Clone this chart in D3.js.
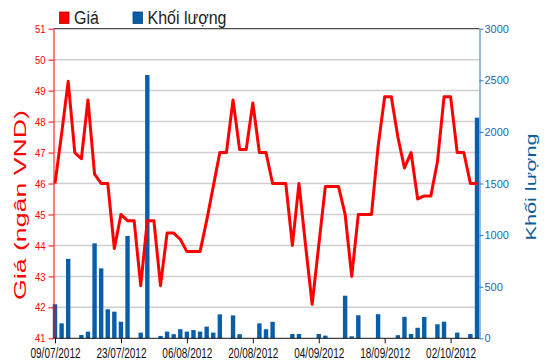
<!DOCTYPE html>
<html>
<head>
<meta charset="utf-8">
<script src="https://cdn.jsdelivr.net/npm/d3@7"></script>
<style>
  html, body { margin: 0; padding: 0; background: #fff; }
  svg { display: block; font-family: "Liberation Sans", Arial, sans-serif; }
</style>
</head>
<body>
<svg id="chart" width="550" height="364"></svg>
<script>
const dates = [
  "09/07/2012","10/07/2012","11/07/2012","12/07/2012","13/07/2012",
  "16/07/2012","17/07/2012","18/07/2012","19/07/2012","20/07/2012",
  "23/07/2012","24/07/2012","25/07/2012","26/07/2012","27/07/2012",
  "30/07/2012","31/07/2012","01/08/2012","02/08/2012","03/08/2012",
  "06/08/2012","07/08/2012","08/08/2012","09/08/2012","10/08/2012",
  "13/08/2012","14/08/2012","15/08/2012","16/08/2012","17/08/2012",
  "20/08/2012","21/08/2012","22/08/2012","23/08/2012","24/08/2012",
  "27/08/2012","28/08/2012","29/08/2012","30/08/2012","31/08/2012",
  "04/09/2012","05/09/2012","06/09/2012","07/09/2012","10/09/2012",
  "11/09/2012","12/09/2012","13/09/2012","14/09/2012","17/09/2012",
  "18/09/2012","19/09/2012","20/09/2012","21/09/2012","24/09/2012",
  "25/09/2012","26/09/2012","27/09/2012","28/09/2012","01/10/2012",
  "02/10/2012","03/10/2012","04/10/2012","05/10/2012","08/10/2012"
];
const price = [
  46.0, 47.6, 49.3, 47.0, 46.8, 48.7, 46.3, 46.0, 46.0, 43.9,
  45.0, 44.8, 44.8, 42.7, 44.8, 44.8, 42.7, 44.4, 44.4, 44.2,
  43.8, 43.8, 43.8, 44.8, 45.9, 47.0, 47.0, 48.7, 47.1, 47.1,
  48.6, 47.0, 47.0, 46.0, 46.0, 46.0, 44.0, 46.0, 44.0, 42.1,
  44.0, 45.9, 45.9, 45.9, 45.0, 43.0, 45.0, 45.0, 45.0, 47.2,
  48.8, 48.8, 47.5, 46.5, 47.0, 45.5, 45.6, 45.6, 46.7, 48.8,
  48.8, 47.0, 47.0, 46.0, 46.0
];
const volume = [
  330, 145, 770, 0, 32, 65, 920, 678, 281, 258,
  161, 991, 0, 55, 2551, 0, 23, 65, 40, 88,
  65, 80, 65, 113, 55, 232, 0, 222, 40, 0,
  0, 145, 88, 160, 0, 0, 42, 42, 0, 0,
  42, 26, 0, 0, 413, 19, 223, 0, 0, 234,
  0, 0, 30, 208, 42, 102, 207, 0, 136, 161,
  0, 55, 0, 42, 2138
];
const priceTicks = [41, 42, 43, 44, 45, 46, 47, 48, 49, 50, 51];
const volumeTicks = [0, 500, 1000, 1500, 2000, 2500, 3000];
const dateTicks = ["09/07/2012","23/07/2012","06/08/2012","20/08/2012","04/09/2012","18/09/2012","02/10/2012"];
const legendLabels = ["Giá", "Khối lượng"];
const leftTitle = "Giá (ngân VND)";
const rightTitle = "Khối lượng";

const svg = d3.select("#chart");
const pLeft = 53.5, pRight = 479.5, pTop = 28.7, pBottom = 338.3;

const x = d3.scalePoint().domain(dates).range([55, 477]);
const yP = d3.scaleLinear().domain([41, 51]).range([pBottom, pTop]);
const yV = d3.scaleLinear().domain([0, 3000]).range([pBottom, pTop]);

const RED = "#ff0000", BAR = "#0a5ea8", BLUE_AX = "#2a78b6", BLUE_TXT = "#1b6aa9";

// gridlines
svg.append("g").selectAll("line")
  .data(priceTicks.filter(d => d > 41 && d < 51))
  .join("line")
  .attr("x1", pLeft).attr("x2", pRight)
  .attr("y1", d => yP(d)).attr("y2", d => yP(d))
  .attr("stroke", "#cfcfcf").attr("stroke-width", 1.5);

// bars
const bw = 4.4;
svg.append("g").selectAll("rect")
  .data(volume.map((v, i) => ({d: dates[i], v})))
  .join("rect")
  .attr("x", d => x(d.d) - bw / 2)
  .attr("width", bw)
  .attr("y", d => yV(d.v))
  .attr("height", d => pBottom - yV(d.v))
  .attr("fill", BAR);

// price line
svg.append("path")
  .datum(price.map((p, i) => ({d: dates[i], p})))
  .attr("fill", "none")
  .attr("stroke", RED)
  .attr("stroke-width", 3)
  .attr("stroke-linejoin", "round")
  .attr("d", d3.line().x(d => x(d.d)).y(d => yP(d.p)));

// top border
svg.append("line").attr("x1", pLeft).attr("x2", pRight).attr("y1", pTop).attr("y2", pTop)
  .attr("stroke", "#222").attr("stroke-width", 1);

// x axis
const gx = svg.append("g").attr("transform", `translate(0,${pBottom})`)
  .call(d3.axisBottom(x).tickValues(dateTicks).tickSizeInner(5).tickSizeOuter(0));
gx.select(".domain").attr("stroke", "#111").attr("d", `M${pLeft},0H${pRight}`);
gx.selectAll(".tick line").attr("stroke", "#111");
gx.selectAll(".tick text")
  .attr("y", 0).attr("dy", null)
  .attr("transform", "translate(0,19.6) scale(1,1.4)")
  .attr("font-size", 10).attr("fill", "#111")
  .attr("font-family", "'Liberation Sans', Arial, sans-serif");

// left axis
const gl = svg.append("g").attr("transform", `translate(${pLeft},0)`)
  .call(d3.axisLeft(yP).tickValues(priceTicks).tickFormat(d3.format("d")).tickSizeInner(5).tickSizeOuter(0).tickPadding(3));
gl.select(".domain").attr("stroke", RED);
gl.selectAll(".tick line").attr("stroke", RED);
gl.selectAll(".tick text")
  .attr("fill", RED).attr("font-size", 9.5)
  .attr("transform", "scale(1,1.2)")
  .attr("font-family", "'Liberation Sans', Arial, sans-serif");

// right axis
const gr = svg.append("g").attr("transform", `translate(${pRight},0)`)
  .call(d3.axisRight(yV).tickValues(volumeTicks).tickFormat(d3.format("d")).tickSizeInner(4).tickSizeOuter(0).tickPadding(1));
gr.select(".domain").attr("stroke", BLUE_AX);
gr.selectAll(".tick line").attr("stroke", BLUE_AX);
gr.selectAll(".tick text")
  .attr("fill", BLUE_TXT).attr("font-size", 11)
  .attr("font-family", "'Liberation Sans', Arial, sans-serif");

// axis titles
svg.append("text")
  .attr("transform", `translate(26,205) rotate(-90)`)
  .attr("text-anchor", "middle")
  .attr("font-size", 16)
  .attr("fill", RED)
  .attr("textLength", 190).attr("lengthAdjust", "spacingAndGlyphs")
  .text(leftTitle);
svg.append("text")
  .attr("transform", `translate(536,187) rotate(-90)`)
  .attr("text-anchor", "middle")
  .attr("font-size", 15.5)
  .attr("fill", "#0d5c9e")
  .attr("textLength", 107).attr("lengthAdjust", "spacingAndGlyphs")
  .text(rightTitle);

// legend
const legend = svg.append("g");
const legendItems = [
  {label: legendLabels[0], color: RED, sx: 59.5, tx: 74},
  {label: legendLabels[1], color: BAR, sx: 133, tx: 147.5}
];
legendItems.forEach(it => {
  legend.append("rect").attr("x", it.sx).attr("y", 12).attr("width", 9.5).attr("height", 11.5)
    .attr("fill", it.color).attr("stroke", d3.color(it.color).darker(1)).attr("stroke-width", 0.8);
  legend.append("text").attr("transform", `translate(${it.tx},24) scale(1,1.1)`)
    .attr("font-size", 16).attr("fill", "#222").text(it.label);
});
</script>
</body>
</html>
